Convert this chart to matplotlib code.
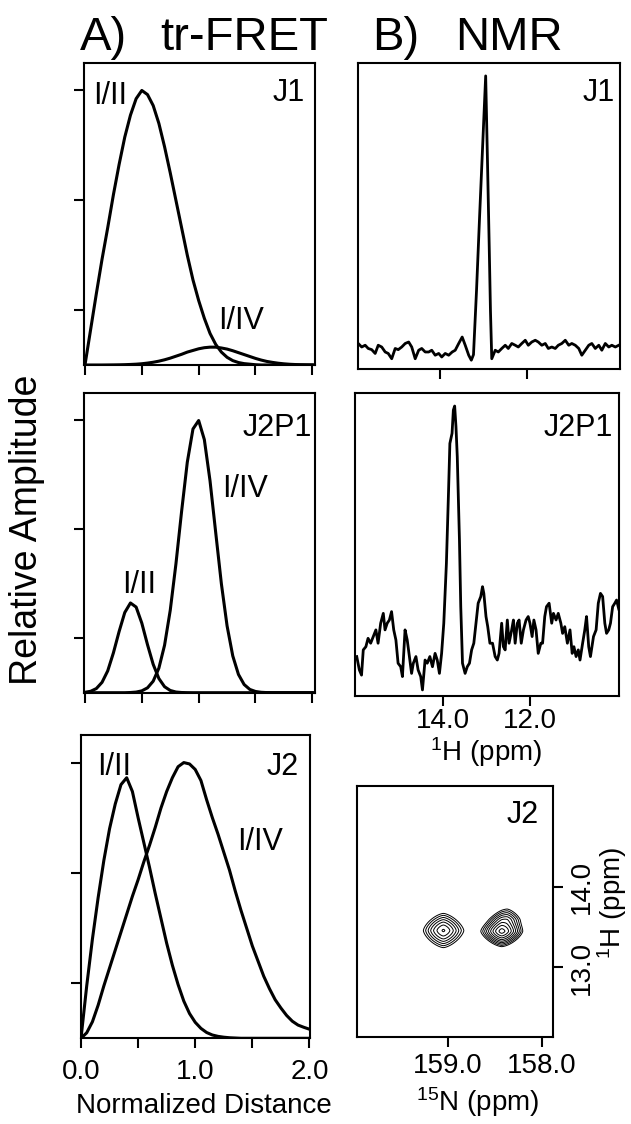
import numpy as np
import matplotlib
matplotlib.use("Agg")
import matplotlib.pyplot as plt

plt.rcParams['font.family'] = ['Liberation Sans', 'DejaVu Sans']
plt.rcParams['mathtext.fontset'] = 'custom'
plt.rcParams['mathtext.rm'] = 'Liberation Sans'
plt.rcParams['mathtext.it'] = 'Liberation Sans:italic'

# ---------------- data ----------------
distance = [0.00, 0.05, 0.10, 0.15, 0.20, 0.25, 0.30, 0.35, 0.40, 0.45,
            0.50, 0.55, 0.60, 0.65, 0.70, 0.75, 0.80, 0.85, 0.90, 0.95,
            1.00, 1.05, 1.10, 1.15, 1.20, 1.25, 1.30, 1.35, 1.40, 1.45,
            1.50, 1.55, 1.60, 1.65, 1.70, 1.75, 1.80, 1.85, 1.90, 1.95, 2.00]

j1_I_II = [0.00, 0.13, 0.26, 0.385, 0.50, 0.62, 0.73, 0.83, 0.91, 0.97,
           1.00, 0.985, 0.945, 0.88, 0.795, 0.70, 0.60, 0.50, 0.40, 0.31,
           0.235, 0.17, 0.115, 0.075, 0.047, 0.028, 0.016, 0.009, 0.005, 0.003,
           0.001, 0, 0, 0, 0, 0, 0, 0, 0, 0, 0]
j1_I_IV = [0, 0, 0, 0, 0.0002, 0.0004, 0.0007, 0.0012, 0.002, 0.003,
           0.0046, 0.007, 0.010, 0.014, 0.019, 0.025, 0.032, 0.039, 0.047, 0.053,
           0.059, 0.063, 0.065, 0.065, 0.062, 0.058, 0.052, 0.045, 0.038, 0.031,
           0.024, 0.018, 0.013, 0.0095, 0.0065, 0.0043, 0.0027, 0.0017, 0.001, 0.0006, 0.0003]

j2p1_I_II = [0.0015, 0.0052, 0.0152, 0.038, 0.080, 0.146, 0.224, 0.294, 0.329, 0.314,
             0.255, 0.176, 0.104, 0.052, 0.022, 0.0082, 0.0025, 0.0007, 0.0002, 0,
             0, 0, 0, 0, 0, 0, 0, 0, 0, 0,
             0, 0, 0, 0, 0, 0, 0, 0, 0, 0, 0]
j2p1_I_IV = [0, 0, 0, 0, 0, 0, 0, 0, 0.0007, 0.0023,
             0.0068, 0.0178, 0.0422, 0.090, 0.174, 0.302, 0.472, 0.665, 0.845, 0.967,
             0.998, 0.928, 0.777, 0.587, 0.399, 0.245, 0.135, 0.067, 0.030, 0.012,
             0.0045, 0.0015, 0.0004, 0, 0, 0, 0, 0, 0, 0, 0]

j2_I_II = [0.00, 0.19, 0.36, 0.51, 0.645, 0.76, 0.85, 0.92, 0.945, 0.895,
           0.80, 0.71, 0.62, 0.525, 0.435, 0.345, 0.265, 0.195, 0.135, 0.09,
           0.058, 0.036, 0.021, 0.012, 0.007, 0.004, 0.002, 0.001, 0, 0,
           0, 0, 0, 0, 0, 0, 0, 0, 0, 0, 0]
j2_I_IV = [0.00, 0.02, 0.06, 0.12, 0.19, 0.255, 0.32, 0.385, 0.45, 0.515,
           0.575, 0.64, 0.70, 0.765, 0.835, 0.895, 0.945, 0.985, 1.00, 0.995,
           0.975, 0.935, 0.865, 0.80, 0.74, 0.675, 0.61, 0.535, 0.465, 0.40,
           0.335, 0.28, 0.225, 0.18, 0.14, 0.11, 0.083, 0.062, 0.048, 0.04, 0.033]

# 1D 1H NMR spectrum of J1 (ppm, relative intensity %)
j1_ppm = [15.88, 15.80, 15.72, 15.65, 15.57, 15.49, 15.42, 15.34, 15.26, 15.19,
          15.11, 15.03, 14.96, 14.88, 14.80, 14.72, 14.65, 14.57, 14.49, 14.42,
          14.34, 14.26, 14.19, 14.11, 14.03, 13.96, 13.88, 13.80, 13.72, 13.65,
          13.57, 13.49, 13.42, 13.34, 13.28, 13.23, 13.16, 13.09, 13.02, 12.95,
          12.91, 12.87, 12.84, 12.81, 12.73, 12.66, 12.58, 12.50, 12.43, 12.35,
          12.27, 12.20, 12.12, 12.04, 11.97, 11.89, 11.81, 11.74, 11.66, 11.58,
          11.51, 11.43, 11.35, 11.28, 11.20, 11.12, 11.04, 10.97, 10.89, 10.81,
          10.74, 10.66, 10.58, 10.51, 10.43, 10.35, 10.28, 10.20, 10.12, 10.05,
          9.97, 9.89]
j1_int = [8.8, 7.6, 8.2, 7.1, 6.7, 5.4, 8.2, 7.6, 5.9, 5.4,
          3.6, 7.1, 6.7, 7.6, 8.8, 9.3, 7.6, 3.6, 6.5, 7.1,
          5.9, 5.9, 6.5, 4.8, 5.4, 4.2, 5.4, 4.8, 5.9, 6.5,
          8.8, 11.0, 8.2, 4.8, 3.1, 5.0, 27.0, 52.0, 76.0, 100.0,
          72.0, 43.0, 20.0, 3.6, 6.5, 5.9, 7.1, 8.2, 7.1, 8.8,
          8.2, 7.6, 8.8, 9.9, 8.2, 9.3, 9.9, 9.3, 8.2, 8.8,
          7.1, 7.6, 7.1, 8.2, 8.8, 9.9, 8.2, 8.8, 8.2, 7.1,
          4.8, 6.5, 8.2, 8.8, 7.1, 8.2, 6.5, 8.8, 7.6, 8.2,
          7.6, 8.2]

# 1D 1H NMR spectrum of J2P1
j2p1_ppm = [15.98, 15.92, 15.87, 15.83, 15.77, 15.72, 15.66, 15.60, 15.54, 15.49,
            15.43, 15.37, 15.33, 15.28, 15.23, 15.18, 15.13, 15.08, 15.03, 14.97,
            14.93, 14.87, 14.82, 14.77, 14.72, 14.68, 14.62, 14.57, 14.51, 14.47,
            14.41, 14.36, 14.30, 14.24, 14.18, 14.13, 14.08, 14.03, 13.98, 13.92,
            13.87, 13.84, 13.79, 13.76, 13.73, 13.70, 13.67, 13.62, 13.59, 13.55,
            13.49, 13.44, 13.39, 13.34, 13.29, 13.24, 13.19, 13.13, 13.09, 13.06,
            13.01, 12.97, 12.92, 12.86, 12.80, 12.75, 12.71, 12.65, 12.61, 12.57,
            12.52, 12.48, 12.42, 12.38, 12.34, 12.29, 12.25, 12.20, 12.15, 12.09,
            12.04, 12.00, 11.95, 11.91, 11.86, 11.81, 11.75, 11.71, 11.66, 11.62,
            11.56, 11.50, 11.46, 11.40, 11.35, 11.29, 11.25, 11.20, 11.14, 11.08,
            11.03, 10.99, 10.94, 10.89, 10.85, 10.79, 10.74, 10.70, 10.65, 10.61,
            10.54, 10.48, 10.43, 10.38, 10.33, 10.28, 10.24, 10.19, 10.15, 10.10,
            10.05, 10.01, 9.96]
j2p1_int = [13.6, 9.0, 7.2, 15.9, 17.0, 19.9, 18.2, 20.5, 22.8, 18.2,
            25.1, 28.5, 22.8, 25.1, 26.2, 29.1, 22.8, 19.3, 11.3, 10.1,
            6.7, 22.8, 19.3, 13.6, 7.8, 11.3, 13.6, 9.0, 6.7, 2.1,
            12.4, 11.3, 13.6, 10.1, 14.7, 12.4, 7.8, 14.7, 25.1, 45.7,
            71.0, 87.1, 90.6, 98.6, 100.0, 92.9, 82.5, 53.8, 30.8, 11.3,
            7.8, 10.1, 11.3, 15.9, 18.2, 25.1, 32.0, 34.3, 37.7, 35.4,
            27.4, 23.9, 18.2, 18.2, 13.6, 12.4, 14.7, 25.1, 17.0, 15.9,
            26.2, 18.2, 22.8, 26.2, 18.2, 25.1, 26.2, 18.2, 22.8, 26.2,
            27.4, 25.1, 20.5, 26.2, 22.8, 14.7, 18.2, 18.2, 27.4, 30.8,
            32.0, 25.1, 28.5, 26.2, 28.5, 25.1, 21.6, 23.9, 18.2, 22.8,
            14.7, 17.0, 13.6, 15.9, 12.4, 18.2, 22.8, 27.4, 17.0, 13.6,
            20.5, 22.8, 32.0, 35.4, 34.3, 25.1, 21.6, 22.8, 25.1, 30.8,
            32.0, 33.1, 30.0]

# 2D 15N-1H cross peaks of J2 (peak centres, relative heights, line widths)
hsqc_n = [159.05, 158.43, 158.37]
hsqc_h = [13.46, 13.45, 13.60]
hsqc_amp = [1.1, 1.8, 0.5]
hsqc_wn = [0.164, 0.135, 0.13]
hsqc_wh = [0.164, 0.12, 0.14]
hsqc_levels = [0.25, 0.32, 0.41, 0.52, 0.66, 0.84, 1.07, 1.36, 1.73]

dist_ticks = [0.0, 0.5, 1.0, 1.5, 2.0]
dist_ticklabels = ['0.0', '', '1.0', '', '2.0']
amp_ticks = [0.2, 0.6, 1.0]
h_ticks = [14.0, 12.0]
h_ticklabels = ['14.0', '12.0']
n_ticks = [159.0, 158.0]
n_ticklabels = ['159.0', '158.0']
h2_ticks = [13.0, 14.0]
h2_ticklabels = ['13.0', '14.0']

# ---------------- figure ----------------
W, H = 631, 1124
fig = plt.figure(figsize=(W / 100, H / 100), dpi=100)


def add_ax(l, t, r, b):
    return fig.add_axes([l / W, 1 - b / H, (r - l) / W, (b - t) / H])


def ftext(x, y, s, **kw):
    fig.text(x / W, 1 - y / H, s, **kw)


LW = 2.2
FR = 1.5
TS = 20
PL = 22


def style(ax):
    for sp in ax.spines.values():
        sp.set_linewidth(FR)
    ax.tick_params(direction='out', length=7, width=1.5, labelsize=TS)


# left column
axA1 = add_ax(83.5, 63, 314.5, 365)
axA2 = add_ax(83.5, 392.7, 314.5, 692.7)
axA3 = add_ax(81, 735, 310, 1038.3)

for ax, c1, c2 in [(axA1, j1_I_II, j1_I_IV), (axA2, j2p1_I_II, j2p1_I_IV),
                   (axA3, j2_I_II, j2_I_IV)]:
    ax.plot(distance, c1, color='black', lw=LW, solid_joinstyle='round')
    ax.plot(distance, c2, color='black', lw=LW, solid_joinstyle='round')
    ax.set_ylim(0, 1.1)
    ax.set_yticks(amp_ticks)
    ax.set_yticklabels([])
    ax.set_xticks(dist_ticks)
    style(ax)

axA1.set_xlim(-0.013, 2.019)
axA2.set_xlim(-0.013, 2.019)
axA1.set_xticklabels([])
axA2.set_xticklabels([])
axA3.set_xlim(0, 2.005)
axA3.set_xticklabels(dist_ticklabels)
axA3.tick_params(axis='x', pad=8)

# right column
axB1 = add_ax(358, 63, 620, 369.3)
axB2 = add_ax(355, 392.7, 619, 696)
axB3 = add_ax(357, 786, 553.3, 1037.3)

axB1.plot(j1_ppm, j1_int, color='black', lw=2.0)
axB1.set_xlim(15.885, 9.862)
axB1.set_ylim(0, 104.4)
axB2.plot(j2p1_ppm, j2p1_int, color='black', lw=2.0)
axB2.set_xlim(16.02, 9.954)
axB2.set_ylim(0, 104.6)
for ax in (axB1, axB2):
    ax.set_xticks(h_ticks)
    ax.set_yticks([])
    style(ax)
axB1.set_xticklabels([])
axB2.set_xticklabels(h_ticklabels)
axB2.tick_params(axis='x', pad=2)

gn = np.linspace(157.88, 159.97, 500)
gh = np.linspace(12.13, 15.26, 500)
GN, GH = np.meshgrid(gn, gh)
Z = np.zeros_like(GN)
for n0, h0, a, wn, wh in zip(hsqc_n, hsqc_h, hsqc_amp, hsqc_wn, hsqc_wh):
    Z += a * np.exp(-np.abs((GN - n0) / wn) ** 1.5 - np.abs((GH - h0) / wh) ** 1.5)
axB3.contour(GN, GH, Z, levels=hsqc_levels, colors='black', linewidths=0.7)
axB3.set_xlim(159.97, 157.88)
axB3.set_ylim(12.13, 15.26)
axB3.set_xticks(n_ticks)
axB3.set_xticklabels(n_ticklabels)
axB3.yaxis.tick_right()
axB3.set_yticks(h2_ticks)
axB3.set_yticklabels(h2_ticklabels, rotation=90, va='center')
style(axB3)
axB3.tick_params(axis='x', pad=4)
axB3.tick_params(axis='y', pad=4)

# titles
ftext(80, 50, 'A)', fontsize=34, va='baseline')
ftext(160, 50, 'tr-FRET', fontsize=34, va='baseline')
ftext(372, 50, 'B)', fontsize=34, va='baseline')
ftext(455, 50, 'NMR', fontsize=34, va='baseline')

# panel labels
ftext(93, 104, 'I/II', fontsize=PL, va='baseline')
ftext(305, 101, 'J1', fontsize=PL, va='baseline', ha='right')
ftext(218, 329, 'I/IV', fontsize=PL, va='baseline')
ftext(312, 436, 'J2P1', fontsize=PL, va='baseline', ha='right')
ftext(222, 497, 'I/IV', fontsize=PL, va='baseline')
ftext(122, 593, 'I/II', fontsize=PL, va='baseline')
ftext(97, 775, 'I/II', fontsize=PL, va='baseline')
ftext(299, 775, 'J2', fontsize=PL, va='baseline', ha='right')
ftext(237, 850, 'I/IV', fontsize=PL, va='baseline')
ftext(615, 101, 'J1', fontsize=PL, va='baseline', ha='right')
ftext(613, 436, 'J2P1', fontsize=PL, va='baseline', ha='right')
ftext(539, 823, 'J2', fontsize=PL, va='baseline', ha='right')

# axis labels
ftext(27, 530, 'Relative Amplitude', fontsize=27, rotation=90, ha='center', va='center')
ftext(204, 1113, 'Normalized Distance', fontsize=TS, ha='center', va='baseline')
ftext(486, 761, r'$^{1}$H (ppm)', fontsize=TS, ha='center', va='baseline')
ftext(478, 1111, r'$^{15}$N (ppm)', fontsize=TS, ha='center', va='baseline')
ftext(612, 903, r'$^{1}$H (ppm)', fontsize=TS, rotation=90, ha='center', va='center')

fig.savefig('out.png', dpi=100)
